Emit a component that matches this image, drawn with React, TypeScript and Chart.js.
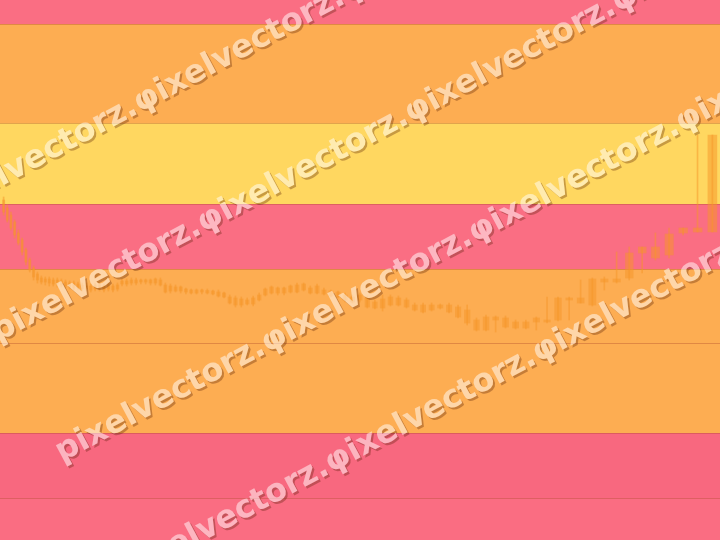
import React, { useEffect, useRef } from "react";
import { Chart, registerables } from "chart.js";

Chart.register(...registerables);

// Sessions counted back from "now" (reversed logarithmic time axis)
const sessionsBack: number[] = Array.from({ length: 105 }, (_, i) => 137 - i);

const high: number[] = [
  68.6, 67.0, 65.6, 64.0, 62.0, 60.4, 58.4, 56.4, 54.8, 53.6,
  52.8, 52.6, 52.6, 52.4, 52.4, 52.2, 52.0, 51.8, 51.8, 51.6,
  51.4, 51.4, 51.2, 51.4, 51.4, 51.2, 51.4, 51.2, 51.4, 52.2,
  52.2, 52.4, 52.4, 52.2, 52.2, 52.2, 52.4, 52.4, 51.4, 51.2,
  51.0, 50.8, 50.4, 50.2, 50.2, 50.2, 50.2, 50.0, 50.0, 49.6,
  49.0, 48.8, 48.6, 48.4, 48.8, 49.4, 50.4, 50.8, 50.6, 50.6,
  51.0, 51.4, 51.4, 50.8, 51.2, 50.4, 50.0, 49.8, 49.4, 49.0,
  49.4, 48.8, 48.0, 49.0, 49.0, 48.8, 48.4, 47.4, 47.4, 47.4,
  47.2, 47.4, 47.0, 47.0, 44.4, 45.0, 44.8, 44.8, 44.0, 44.0,
  44.6, 48.6, 48.6, 48.6, 52.0, 52.4, 52.6, 57.6, 58.6, 58.6,
  61.4, 62.4, 62.4, 81.0, 81.0,
];

const low: number[] = [
  65.0, 63.6, 62.0, 60.4, 59.0, 57.0, 55.0, 53.6, 52.0, 51.4,
  51.2, 51.0, 50.8, 50.8, 50.6, 50.6, 50.4, 50.2, 50.0, 50.0,
  49.8, 49.8, 49.6, 49.8, 49.8, 49.6, 49.8, 49.6, 49.8, 50.8,
  50.8, 51.0, 51.0, 51.2, 51.2, 51.0, 51.0, 50.8, 49.4, 49.4,
  49.6, 49.4, 49.2, 49.2, 49.2, 49.2, 49.2, 49.0, 48.6, 48.4,
  47.2, 46.6, 46.6, 47.0, 46.8, 47.8, 48.8, 49.2, 49.0, 49.0,
  49.4, 49.4, 49.8, 49.2, 49.2, 49.0, 48.6, 48.4, 47.6, 47.4,
  47.6, 46.4, 46.2, 45.8, 46.8, 46.8, 46.4, 45.8, 45.4, 45.8,
  46.2, 45.4, 44.4, 43.0, 41.8, 41.8, 41.6, 42.4, 42.2, 42.2,
  42.0, 43.4, 43.8, 44.0, 47.4, 46.8, 50.0, 51.4, 52.0, 53.4,
  56.0, 56.4, 61.0, 61.6, 61.6,
];

const open: number[] = [
  68.0, 66.4, 65.0, 63.6, 61.4, 60.0, 58.0, 56.0, 54.4, 53.2,
  52.4, 52.2, 52.2, 52.0, 52.0, 51.8, 51.6, 51.4, 51.4, 51.2,
  51.0, 50.8, 50.8, 51.0, 51.0, 50.8, 51.0, 50.8, 51.0, 51.8,
  51.8, 52.0, 52.0, 52.0, 52.0, 52.0, 52.2, 52.0, 51.0, 50.8,
  50.6, 50.6, 50.2, 50.0, 50.0, 50.0, 49.9, 49.8, 49.6, 49.4,
  48.6, 48.4, 48.2, 48.0, 48.4, 49.0, 50.2, 50.6, 50.4, 50.4,
  50.8, 51.0, 51.2, 50.4, 50.8, 50.0, 49.8, 49.6, 49.0, 48.6,
  49.0, 48.4, 47.6, 48.2, 48.6, 48.4, 48.0, 47.0, 47.0, 47.0,
  47.0, 47.0, 46.6, 46.0, 44.0, 44.6, 44.6, 44.4, 43.6, 43.6,
  44.4, 44.0, 48.4, 48.4, 48.4, 52.2, 52.2, 52.2, 57.4, 58.6,
  58.6, 61.2, 62.4, 62.4, 81.0,
];

const close: number[] = [
  65.6, 64.0, 62.4, 61.0, 59.4, 57.6, 55.6, 54.0, 52.6, 52.0,
  51.6, 51.6, 51.4, 51.2, 51.2, 51.0, 50.8, 50.6, 50.4, 50.4,
  50.2, 50.2, 50.0, 50.2, 50.4, 50.0, 50.2, 50.0, 50.2, 51.2,
  51.2, 51.4, 51.4, 51.6, 51.6, 51.4, 51.4, 51.0, 49.6, 49.8,
  49.8, 49.8, 49.6, 49.4, 49.4, 49.6, 49.4, 49.2, 48.8, 48.6,
  47.4, 47.0, 47.0, 47.2, 47.2, 48.0, 49.0, 49.4, 49.4, 49.4,
  49.6, 49.6, 50.0, 49.4, 49.4, 49.2, 48.8, 48.6, 48.0, 47.6,
  48.0, 46.6, 46.4, 46.4, 47.0, 47.0, 46.6, 46.0, 45.6, 46.0,
  46.4, 45.6, 44.6, 43.4, 42.0, 42.0, 44.0, 42.6, 42.4, 42.4,
  43.6, 43.6, 44.0, 48.0, 47.4, 47.0, 51.6, 51.6, 52.4, 57.4,
  56.4, 57.0, 61.4, 61.6, 61.6,
];

// Background bands (price levels, top to bottom) and their colours
const bandEdges: number[] = [108, 103.2, 83.4, 67.2, 54.2, 39.4, 21.4, 8.4, 0];
const bandColors: string[] = [
  "#fa6e83",
  "#fdad52",
  "#ffd760",
  "#fa6e83",
  "#fdad52",
  "#fdad52",
  "#f8687f",
  "#fa6d82",
];

const WM_TEXT = "pixelvectorz.φixelvectorz.φixelvectorz.φixelvectorz.";
const WM_ROWS = [-1, 0, 1, 2];

const bandPlugin = {
  id: "bands",
  beforeDraw(chart: any) {
    const { ctx, chartArea, scales } = chart;
    const y = scales.y;
    ctx.save();
    for (let i = 0; i < bandColors.length; i++) {
      const top = y.getPixelForValue(bandEdges[i]);
      const bottom = y.getPixelForValue(bandEdges[i + 1]);
      ctx.fillStyle = bandColors[i];
      ctx.fillRect(chartArea.left, top, chartArea.right - chartArea.left, bottom - top);
    }
    ctx.strokeStyle = "rgba(170,70,40,0.35)";
    ctx.lineWidth = 1;
    for (let i = 1; i < bandEdges.length - 1; i++) {
      const py = Math.round(y.getPixelForValue(bandEdges[i])) + 0.5;
      ctx.beginPath();
      ctx.moveTo(chartArea.left, py);
      ctx.lineTo(chartArea.right, py);
      ctx.stroke();
    }
    ctx.restore();
  },
};

const watermarkPlugin = {
  id: "watermark",
  afterDraw(chart: any) {
    const { ctx, width, height } = chart;
    const off = document.createElement("canvas");
    off.width = width;
    off.height = height;
    const o = off.getContext("2d") as CanvasRenderingContext2D;
    o.font = 'bold 32px "DejaVu Sans"';
    o.textBaseline = "alphabetic";
    const angle = (-28 * Math.PI) / 180;
    const draw = (dx: number, dy: number, color: string) => {
      o.save();
      o.translate(-2 + dx, 342 + dy);
      o.rotate(angle);
      o.fillStyle = color;
      WM_ROWS.forEach((k) => o.fillText(WM_TEXT, 0, k * 136));
      o.restore();
    };
    draw(2, 2, "rgba(80,25,0,0.32)");
    o.globalCompositeOperation = "destination-out";
    draw(0, 0, "#000");
    o.globalCompositeOperation = "source-over";
    draw(0, 0, "rgba(255,255,255,0.5)");
    ctx.drawImage(off, 0, 0);
  },
};

export default function App() {
  const ref = useRef<HTMLCanvasElement | null>(null);
  useEffect(() => {
    document.body.style.margin = "0";
    if (!ref.current) return;
    const candleColor = "rgba(246,150,40,0.5)";
    const chart = new Chart(ref.current, {
      type: "bar",
      data: {
        datasets: [
          {
            label: "wick",
            data: sessionsBack.map((x, i) => ({ x, y: [low[i], high[i]] })) as any,
            backgroundColor: candleColor,
            borderWidth: 0,
            barThickness: 1,
            stack: "candle",
          },
          {
            label: "body",
            data: sessionsBack.map((x, i) => ({ x, y: [close[i], open[i]] })) as any,
            backgroundColor: candleColor,
            borderWidth: 0,
            barThickness: "flex",
            barPercentage: 0.6,
            categoryPercentage: 1,
            minBarLength: 1,
            stack: "candle",
          },
        ],
      },
      options: {
        animation: false,
        responsive: false,
        devicePixelRatio: 1,
        layout: { padding: 0 },
        plugins: { legend: { display: false }, tooltip: { enabled: false } },
        scales: {
          x: {
            type: "logarithmic",
            reverse: true,
            min: 32.5,
            max: 138,
            offset: false,
            display: false,
          },
          y: {
            type: "linear",
            min: 0,
            max: 108,
            stacked: false,
            display: false,
          },
        },
      },
      plugins: [bandPlugin, watermarkPlugin],
    });
    return () => chart.destroy();
  }, []);
  return (
    <div style={{ position: "absolute", left: 0, top: 0, width: 720, height: 540 }}>
      <canvas ref={ref} width={720} height={540} style={{ display: "block" }} />
    </div>
  );
}
